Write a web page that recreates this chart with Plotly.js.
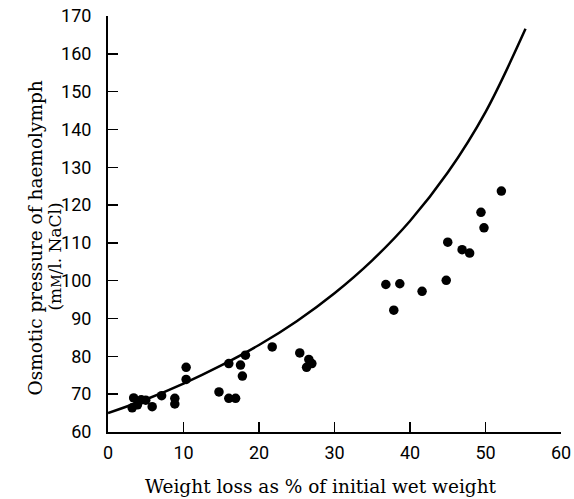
<!DOCTYPE html>
<html>
<head>
<meta charset="utf-8">
<script src="https://cdn.plot.ly/plotly-3.0.1.min.js"></script>
<style>html,body{margin:0;padding:0;background:#fff;}#chart{width:574px;height:499px;}</style>
</head>
<body>
<div id="chart"></div>
<script>
// Measured points: weight loss (%) vs osmotic pressure (mM/l NaCl)
var weightLoss = [3.2, 3.4, 3.9, 4.4, 5.0, 5.85, 7.1, 8.85, 8.85, 10.35, 10.35,
  14.7, 16.0, 16.9, 16.0, 17.55, 17.8, 18.2, 21.75, 25.4, 26.6, 27.0, 26.3,
  36.8, 37.85, 38.65, 41.6, 44.8, 45.0, 46.9, 47.9, 49.4, 49.8, 52.1];
var osmoticPressure = [66.4, 69.0, 67.2, 68.5, 68.4, 66.7, 69.6, 68.9, 67.4, 77.1, 73.9,
  70.6, 68.9, 68.9, 78.1, 77.7, 74.8, 80.3, 82.5, 80.9, 79.2, 78.1, 77.1,
  99.0, 92.2, 99.2, 97.2, 100.1, 110.2, 108.2, 107.3, 118.1, 114.0, 123.7];

// Curve
var curveX = [0, 5, 10, 15, 20, 25, 30, 35, 40, 45, 50, 55.3];
var curveY = [65.0, 68.6, 72.8, 77.6, 83.0, 89.3, 96.7, 105.4, 115.8, 128.6, 144.6, 166.6];

var xTicks = [0, 10, 20, 30, 40, 50, 60];
var yTicks = [60, 70, 80, 90, 100, 110, 120, 130, 140, 150, 160, 170];

var traces = [
  {x: curveX, y: curveY, mode: 'lines', type: 'scatter', line: {color: '#000', width: 2.5, shape: 'spline'}, hoverinfo: 'skip'},
  {x: weightLoss, y: osmoticPressure, mode: 'markers', type: 'scatter', marker: {color: '#000', size: 9.5}}
];

var tickFont = {family: 'Roboto, sans-serif', size: 18, color: '#000'};
var titleFont = {family: '"DejaVu Serif", "Liberation Serif", serif', size: 18.5, color: '#000'};
var title2Font = {family: '"DejaVu Serif", "Liberation Serif", serif', size: 17, color: '#000'};

var layout = {
  width: 574, height: 499,
  margin: {l: 107.5, r: 13.3, t: 16, b: 67},
  paper_bgcolor: '#fff', plot_bgcolor: '#fff',
  showlegend: false,
  xaxis: {
    range: [0, 60], tickvals: xTicks, ticktext: xTicks.map(String),
    ticks: 'inside', ticklen: 10, tickwidth: 1.5, tickcolor: '#000',
    showline: true, linecolor: '#000', linewidth: 2, showgrid: false, zeroline: false,
    tickfont: tickFont, ticklabelstandoff: 3, fixedrange: true
  },
  yaxis: {
    range: [60, 170], tickvals: yTicks, ticktext: yTicks.map(String),
    ticks: 'inside', ticklen: 10, tickwidth: 1.5, tickcolor: '#000',
    showline: true, linecolor: '#000', linewidth: 2, showgrid: false, zeroline: false,
    tickfont: tickFont, ticklabelstandoff: 11, fixedrange: true
  },
  annotations: [
    {text: 'Weight loss as % of initial wet weight', xref: 'paper', yref: 'paper',
     x: (321 - 107.5) / 453.2, y: -(486 - 432) / 416, xanchor: 'center', yanchor: 'middle',
     showarrow: false, font: titleFont},
    {text: 'Osmotic pressure of haemolymph', xref: 'paper', yref: 'paper', textangle: -90,
     x: -(107.5 - 34) / 453.2, y: (432 - 238) / 416, xanchor: 'center', yanchor: 'middle',
     showarrow: false, font: titleFont},
    {text: '(m<span style="font-size:13px">M</span>/l. NaCl)', xref: 'paper', yref: 'paper', textangle: -90,
     x: -(107.5 - 54) / 453.2, y: (432 - 257) / 416, xanchor: 'center', yanchor: 'middle',
     showarrow: false, font: title2Font}
  ]
};

Plotly.newPlot('chart', traces, layout, {displayModeBar: false, staticPlot: true});
</script>
</body>
</html>
